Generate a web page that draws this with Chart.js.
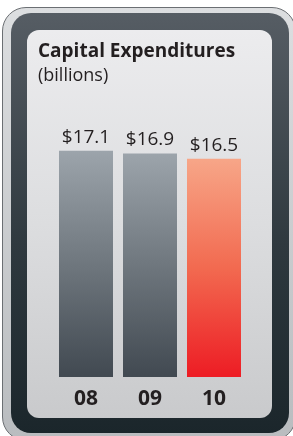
<!DOCTYPE html>
<html>
<head>
<meta charset="utf-8">
<script src="https://cdn.jsdelivr.net/npm/chart.js@4.4.1/dist/chart.umd.min.js"></script>
<style>
  html, body { margin: 0; padding: 0; background: #ffffff; }
  body { width: 293px; height: 436px; position: relative; overflow: hidden; }
  .rim {
    position: absolute; left: 2px; top: 7px; width: 294px; height: 434px;
    border-radius: 24px; box-sizing: border-box;
    border: 1px solid #6b6f73;
    background: linear-gradient(#dcdee0, #b9bcbf);
  }
  .frame {
    position: absolute; left: 11px; top: 13px; width: 278px; height: 420px;
    border-radius: 20px;
    background: linear-gradient(#565d64, #2f393f 55%, #1b262b);
  }
  .panel {
    position: absolute; left: 27px; top: 30px; width: 245px; height: 388px;
    border-radius: 12px;
    background: linear-gradient(#ececee, #dcdddf 50%, #c9cacc);
  }
  #wrap { position: absolute; left: 27px; top: 30px; width: 245px; height: 388px; }
</style>
</head>
<body>
<div class="rim"></div>
<div class="frame"></div>
<div class="panel"></div>
<div id="wrap"><canvas id="capexChart"></canvas></div>
<script>
const categories = ['08', '09', '10'];
const capex = [17.1, 16.9, 16.5];
const valueLabels = ['$17.1', '$16.9', '$16.5'];
const yMin = 0;
const yMax = 20;

const textColor = '#231f20';
const grayStops = ['#9ca4ab', '#6f777e', '#414951'];
const redStops = ['#f7a688', '#f26a50', '#ed1c24'];

function barFill(context) {
    const chart = context.chart;
    if (!chart.chartArea) {
        return grayStops[1];
    }
    const stops = context.dataIndex === 2 ? redStops : grayStops;
    const y = chart.scales.y;
    const top = y.getPixelForValue(context.raw);
    const bottom = y.getPixelForValue(0);
    const g = chart.ctx.createLinearGradient(0, top, 0, bottom);
    g.addColorStop(0, stops[0]);
    g.addColorStop(0.5, stops[1]);
    g.addColorStop(1, stops[2]);
    return g;
}

const valueLabelPlugin = {
    id: 'valueLabels',
    afterDatasetsDraw(chart) {
        const ctx = chart.ctx;
        const meta = chart.getDatasetMeta(0);
        ctx.save();
        ctx.font = '19px "Open Sans"';
        ctx.fillStyle = textColor;
        ctx.textAlign = 'center';
        ctx.textBaseline = 'alphabetic';
        meta.data.forEach(function (bar, i) {
            ctx.fillText(valueLabels[i], bar.x, bar.y - 8);
        });
        ctx.restore();
    }
};

new Chart(document.getElementById('capexChart'), {
    type: 'bar',
    data: {
        labels: categories,
        datasets: [{
            label: 'Capital Expenditures',
            data: capex,
            backgroundColor: barFill,
            borderWidth: 0,
            barPercentage: 54 / 64,
            categoryPercentage: 1
        }]
    },
    options: {
        responsive: true,
        maintainAspectRatio: false,
        animation: false,
        layout: {
            padding: { left: 11, right: 26, top: 0, bottom: 9 }
        },
        plugins: {
            legend: { display: false },
            tooltip: { enabled: false },
            title: {
                display: true,
                text: 'Capital Expenditures',
                align: 'start',
                color: textColor,
                font: { family: 'Open Sans', size: 19, weight: 'bold' },
                padding: { top: 10, bottom: 0 }
            },
            subtitle: {
                display: true,
                text: '(billions)',
                align: 'start',
                color: textColor,
                font: { family: 'Open Sans', size: 18 },
                padding: { top: 2, bottom: 26 }
            }
        },
        scales: {
            x: {
                grid: { display: false },
                border: { display: false },
                ticks: {
                    color: textColor,
                    padding: 1,
                    font: { family: 'Open Sans', size: 21, weight: 'bold' }
                },
                afterFit: function (scale) {
                    scale.height = 32;
                }
            },
            y: {
                min: yMin,
                max: yMax,
                grid: { display: false },
                border: { display: false },
                ticks: { display: false },
                afterFit: function (scale) {
                    scale.width = 16;
                }
            }
        }
    },
    plugins: [valueLabelPlugin]
});
</script>
</body>
</html>
